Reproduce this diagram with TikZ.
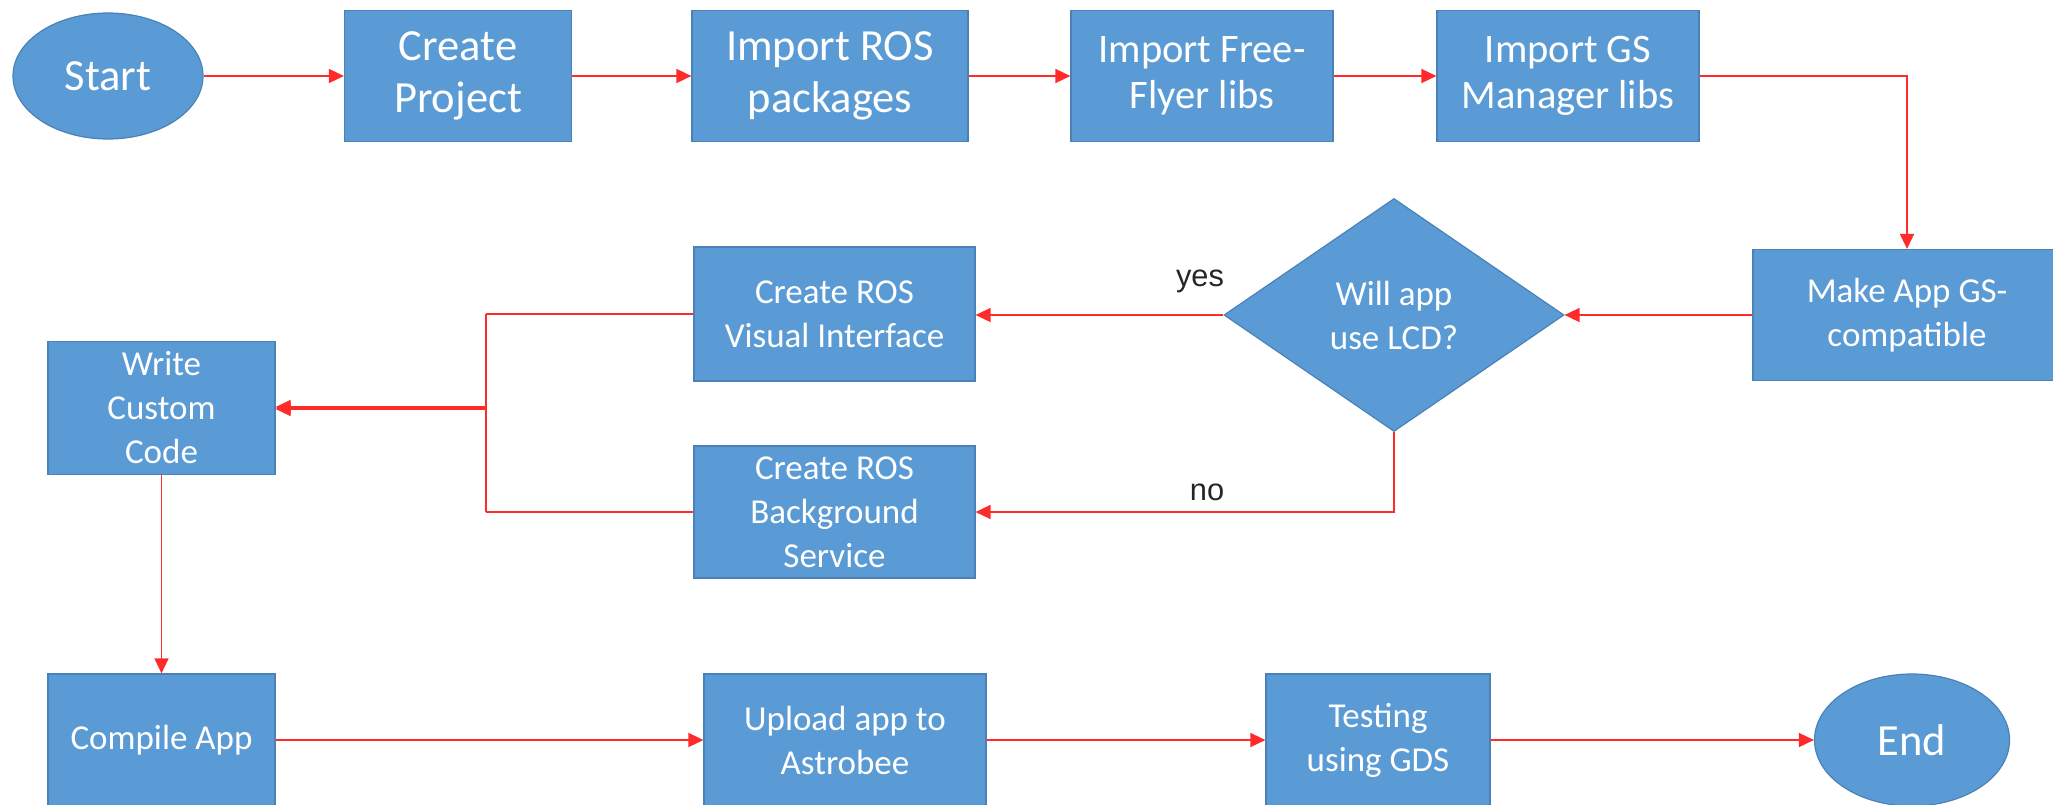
\documentclass[tikz,border=0pt]{standalone}
\usepackage{fontspec}
\setmainfont{Carlito}
\newfontfamily\labelfont{Liberation Sans}
\usetikzlibrary{shapes.geometric,arrows.meta}
\definecolor{boxblue}{HTML}{5B9BD5}
\definecolor{boxedge}{HTML}{4A82B8}
\definecolor{flowred}{HTML}{FF2A2A}
\begin{document}
\begin{tikzpicture}[x=1pt,y=-1pt,
  blockbase/.style={fill=boxblue, draw=boxedge, line width=1.2pt, text=white, align=center, inner sep=0pt},
  box/.style={blockbase, rectangle},
  oval/.style={blockbase, ellipse},
  decision/.style={blockbase, diamond, aspect=1.46},
  bigtext/.style={font=\fontsize{44.5}{52}\selectfont},
  medtext/.style={font=\fontsize{40.5}{46}\selectfont},
  smalltext/.style={font=\fontsize{35}{44}\selectfont},
  lbl/.style={font=\labelfont\fontsize{30.8}{36}\selectfont, text=black!85, inner sep=0pt},
  flow/.style={draw=flowred, line width=1.6pt, -{Triangle[length=15pt,width=14pt]}},
  flowplain/.style={draw=flowred, line width=1.6pt}
]
\path[use as bounding box] (0,0) rectangle (2053,804);
\clip (0,0) rectangle (2053,804);

% top row
\node[oval, bigtext, minimum width=190pt, minimum height=126pt] (start) at (108,76) {Start};
\node[box, bigtext, minimum width=227pt, minimum height=131pt] (create) at (458,76) {Create\\Project};
\node[box, bigtext, minimum width=276pt, minimum height=131pt] (ros) at (830,76) {Import ROS\\packages};
\node[box, medtext, minimum width=262pt, minimum height=131pt] (ff) at (1202,76) {Import Free-\\Flyer libs};
\node[box, medtext, minimum width=262pt, minimum height=131pt] (gs) at (1568,76) {Import GS\\Manager libs};

% middle
\node[box, smalltext, minimum width=308pt, minimum height=131pt] (make) at (1907,315) {Make App GS-\\compatible};
\node[decision, smalltext, minimum width=340pt, minimum height=233pt] (dec) at (1394,315) {Will app\\use LCD?};
\node[box, smalltext, minimum width=281pt, minimum height=134pt] (vis) at (834.5,314) {Create ROS\\Visual Interface};
\node[box, smalltext, minimum width=281pt, minimum height=132pt] (bg) at (834.5,512) {Create ROS\\Background\\Service};
\node[box, smalltext, minimum width=227pt, minimum height=133pt] (write) at (161.5,408) {Write\\Custom\\Code};

% bottom row
\node[box, smalltext, minimum width=227pt, minimum height=132pt] (compile) at (161.5,740) {Compile App};
\node[box, smalltext, minimum width=282pt, minimum height=132pt] (upload) at (845,740) {Upload app to\\Astrobee};
\node[box, smalltext, minimum width=224pt, minimum height=132pt] (test) at (1378,740) {Testing\\using GDS};
\node[oval, bigtext, minimum width=195pt, minimum height=132pt] (end) at (1912,740) {End};

% labels
\node[lbl] (yes) at (1200,281) {yes};
\node[lbl] (no) at (1207,492) {no};

% connectors
\draw[flow] (start) -- (create);
\draw[flow] (create) -- (ros);
\draw[flow] (ros) -- (ff);
\draw[flow] (ff) -- (gs);
\draw[flow] (gs.east) -| (make.north);
\draw[flow] (make.west) -- (dec.east);
\draw[flow] (dec.west) -- (vis.east |- dec.west);
\draw[flow] (dec.south) |- (bg.east);
\coordinate (jtop) at (486,314);
\coordinate (jbot) at (486,512);
\draw[flowplain] (vis.west) -- (jtop);
\draw[flowplain] (bg.west) -- (jbot);
\draw[flow] (jtop) |- ([yshift=-1pt]write.east);
\draw[flow] (jbot) |- ([yshift=1pt]write.east);
\draw[flow] (write) -- (compile);
\draw[flow] (compile) -- (upload);
\draw[flow] (upload) -- (test);
\draw[flow] (test) -- (end);
\end{tikzpicture}
\end{document}
